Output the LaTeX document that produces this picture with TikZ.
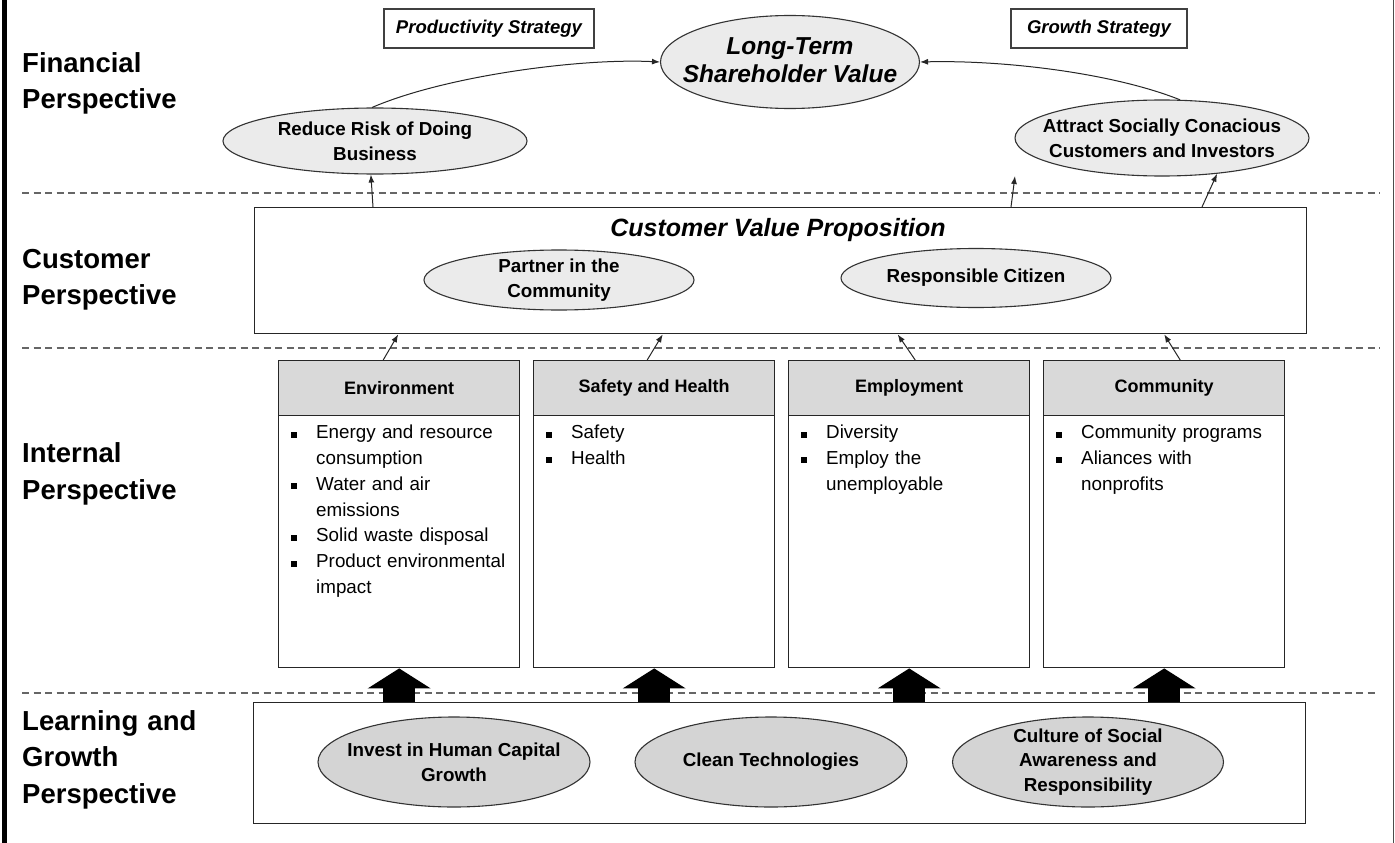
\documentclass[tikz,border=0pt]{standalone}
\usepackage{fontspec}
\setmainfont{Liberation Sans}
\usetikzlibrary{shapes.geometric,arrows.meta,calc}

% bulleted item with hanging indent
\newcommand\bli[1]{\noindent\hangindent=25pt\hangafter=1\strut\makebox[25pt][l]{\raisebox{1pt}{\rule{6pt}{6pt}}}#1\par}

\tikzset{
  sep/.style={draw=black!60, line width=1.2pt, dash pattern=on 7pt off 4.5pt},
  persp/.style={anchor=north west, inner sep=0pt, text width=240pt, align=left,
    font=\fontsize{27.5}{36.5}\selectfont\bfseries},
  stratbox/.style={draw=black!75, line width=1.2pt, minimum width=#1, minimum height=39pt,
    inner sep=0pt, font=\fontsize{18.5}{22}\selectfont\bfseries\itshape},
  ell/.style={ellipse, draw=black!80, line width=1.1pt, inner sep=0pt},
  lightell/.style={ell, fill=black!8},
  darkell/.style={ell, fill=black!17},
  elltext/.style={align=center, inner sep=0pt, font=\fontsize{18.8}{25}\selectfont\bfseries},
  panel/.style={draw=black!85, line width=1.4pt, inner sep=0pt, anchor=north west},
  hdr/.style={draw=black!85, line width=1.4pt, fill=black!15, minimum width=241pt,
    minimum height=55pt, inner sep=0pt, anchor=north west,
    font=\fontsize{18}{22}\selectfont\bfseries},
  listbody/.style={anchor=north west, inner sep=0pt, text width=225pt, align=left,
    font=\fontsize{18.8}{25.8}\selectfont},
  arr/.style={draw=black!85, line width=1pt, -{Latex[length=8pt,width=6pt]}},
  bigarr/.style={line width=32pt, -{Triangle[width=62pt,length=20pt]}},
}

\begin{document}
\begin{tikzpicture}[x=1pt,y=-1pt]
\useasboundingbox (0,0) rectangle (1395,843);
\fill[white] (0,0) rectangle (1395,843);

% frame edges
\fill[black] (2,0) rectangle (7,843);
\draw[black!70, line width=1.5pt] (1393.5,0) -- (1393.5,843);

% layer separators
\draw[sep] (22,193) -- (1380,193);
\draw[sep] (22,348) -- (1380,348);
\draw[sep] (22,693) -- (1376,693);

% perspective labels
\node[persp] (finl) at (22,46.5) {\strut Financial\\Perspective};
\node[persp] (cusl) at (22,242.5) {\strut Customer\\Perspective};
\node[persp] (intl) at (22,437) {\strut Internal\\Perspective};
\node[persp] (lgl) at (22,704.5) {\strut Learning and\\Growth\\Perspective};

% financial perspective
\node[stratbox=210pt] (prod) at (489,28.5) {Productivity Strategy};
\node[stratbox=176pt] (grow) at (1099,28.5) {Growth Strategy};

\node[lightell, minimum width=259pt, minimum height=93pt] (lt) at (790,62) {};
\node[elltext, font=\fontsize{24.5}{28}\selectfont\bfseries\itshape] (ltt) at ([yshift=2pt]lt.center) {Long-Term\\Shareholder Value};

\node[lightell, minimum width=304pt, minimum height=66pt] (rr) at (375,141) {};
\node[elltext] (rrt) at (rr) {Reduce Risk of Doing\\Business};

\node[lightell, minimum width=294pt, minimum height=76pt] (at) at (1162,138) {};
\node[elltext] (att) at (at) {Attract Socially Conacious\\Customers and Investors};

\draw[arr] (rr.95) .. controls (445,76) and (580,58) .. (lt.west);
\draw[arr] (at.65) .. controls (1110,72) and (1000,60) .. (lt.east);

% customer perspective
\node[panel, minimum width=1052pt, minimum height=126pt] (cvp) at (254,207) {};
\node[inner sep=0pt, font=\fontsize{25}{30}\selectfont\bfseries\itshape] (cvpt) at (778,230) {Customer Value Proposition};
\node[lightell, minimum width=270pt, minimum height=60pt] (pc) at (559,280) {};
\node[elltext] (pct) at (pc) {Partner in the\\Community};
\node[lightell, minimum width=270pt, minimum height=59pt] (rc) at (976,278) {};
\node[elltext] (rct) at (rc) {Responsible Citizen};

\coordinate (cvpA) at (373,207);
\coordinate (cvpB) at (1011,207);
\coordinate (cvpC) at (1202,207);
\coordinate (tipB) at (1015,176);
\draw[arr] (cvpA) -- (rr.-97);
\draw[arr] (cvpB) -- (tipB);
\draw[arr] (cvpC) -- (at.-33);

% internal perspective
\node[hdr] (envh) at (278,360) {Environment};
\node[hdr] (safh) at (533,360) {Safety and Health};
\node[hdr] (emph) at (788,360) {Employment};
\node[hdr] (comh) at (1043,360) {Community};
\node[panel, minimum width=241pt, minimum height=307pt] (env) at (278,360) {};
\node[panel, minimum width=241pt, minimum height=307pt] (saf) at (533,360) {};
\node[panel, minimum width=241pt, minimum height=307pt] (emp) at (788,360) {};
\node[panel, minimum width=241pt, minimum height=307pt] (com) at (1043,360) {};

\node[listbody] (envl) at (291,420.4) {%
  \bli{Energy and resource\newline consumption}%
  \bli{Water and air\newline emissions}%
  \bli{Solid waste disposal}%
  \bli{Product environmental\newline impact}};
\node[listbody] (safl) at (546,420.4) {%
  \bli{Safety}%
  \bli{Health}};
\node[listbody] (empl) at (801,420.4) {%
  \bli{Diversity}%
  \bli{Employ the\newline unemployable}};
\node[listbody] (coml) at (1056,420.4) {%
  \bli{Community programs}%
  \bli{Aliances with\newline nonprofits}};

\draw[arr] ($(env.north)+(-16,0)$) -- ($(env.north |- cvp.south)+(-1,0)$);
\draw[arr] ($(saf.north)+(-7,0)$) -- ($(saf.north |- cvp.south)+(8.5,0)$);
\draw[arr] ($(emp.north)+(6,0)$) -- ($(emp.north |- cvp.south)+(-11.5,0)$);
\draw[arr] ($(com.north)+(16,0)$) -- (com.north |- cvp.south);

% learning and growth perspective
\node[panel, minimum width=1052pt, minimum height=121pt] (lg) at (253,702) {};
\node[darkell, minimum width=272pt, minimum height=90pt] (ih) at (454,762) {};
\node[elltext] (iht) at (ih) {Invest in Human Capital\\Growth};
\node[darkell, minimum width=272pt, minimum height=90pt] (ct) at (771,762) {};
\node[elltext] (ctt) at (ct) {Clean Technologies};
\node[darkell, minimum width=271pt, minimum height=90pt] (cs) at (1088,762) {};
\node[elltext, font=\fontsize{18.8}{24.5}\selectfont\bfseries] (cst) at (cs) {Culture of Social\\Awareness and\\Responsibility};

\draw[bigarr] (env.south |- lg.north) -- (env.south);
\draw[bigarr] (saf.south |- lg.north) -- (saf.south);
\draw[bigarr] (emp.south |- lg.north) -- (emp.south);
\draw[bigarr] (com.south |- lg.north) -- (com.south);
\end{tikzpicture}
\end{document}
